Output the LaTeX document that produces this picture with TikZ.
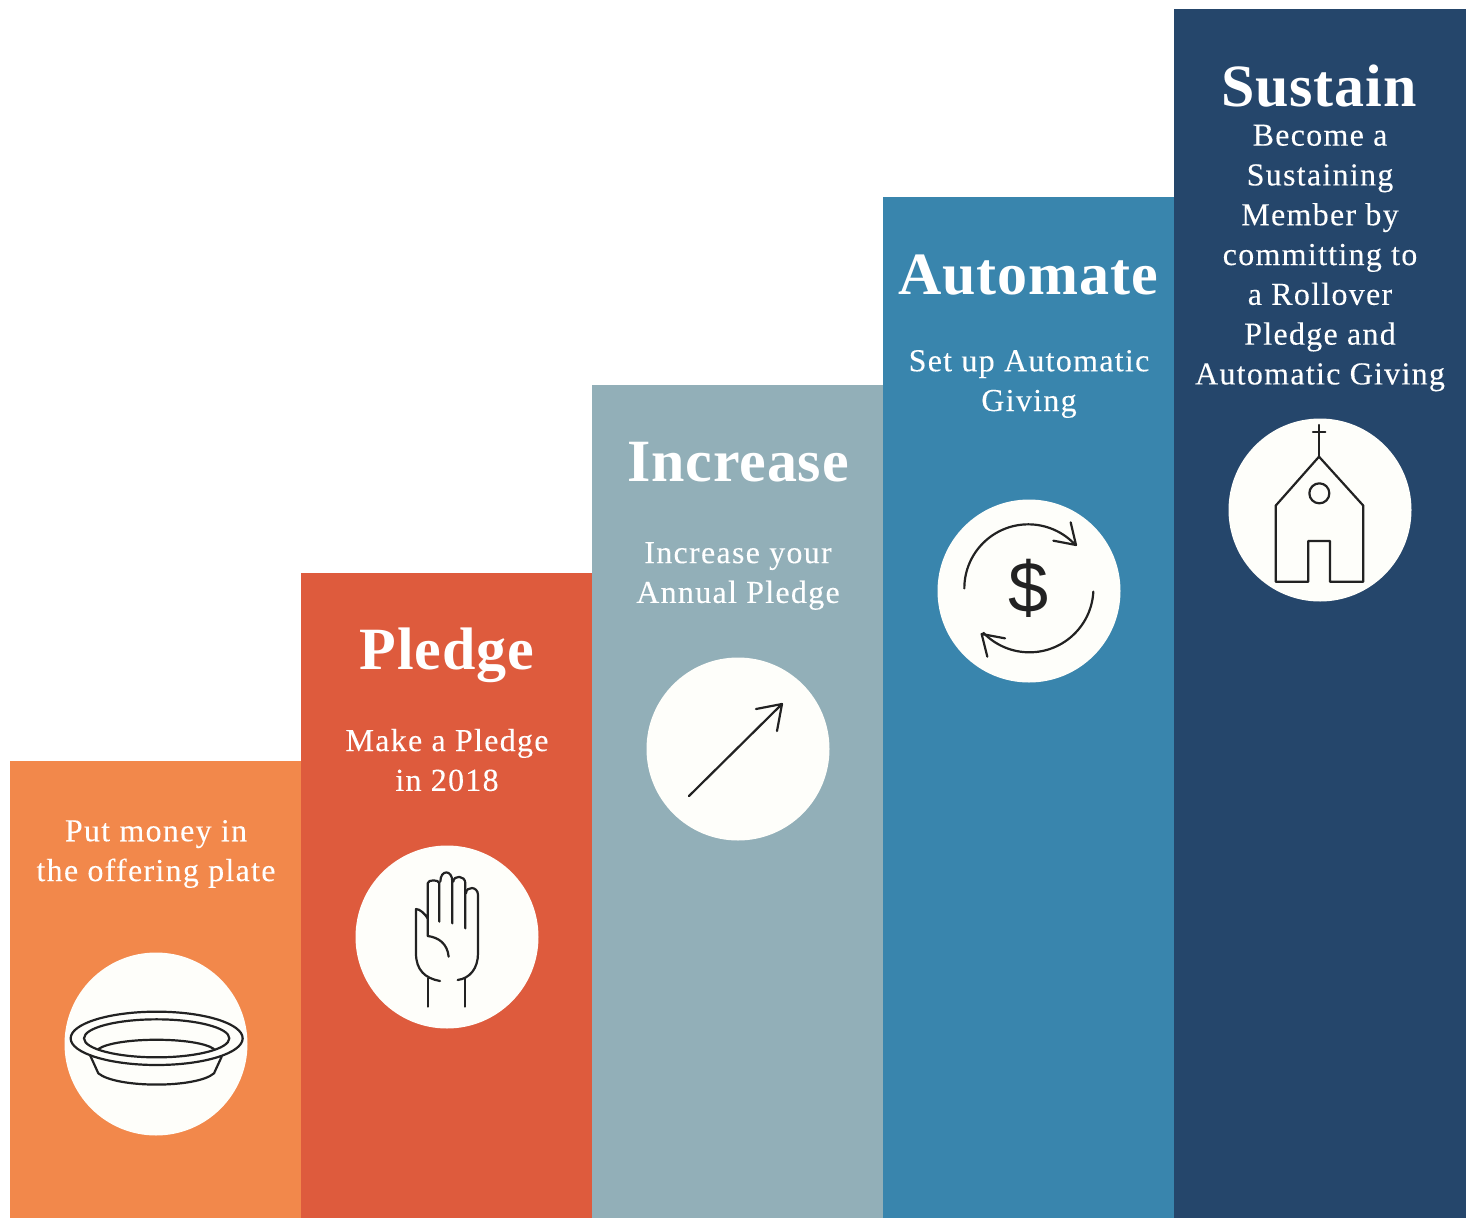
\documentclass[tikz,border=0pt]{standalone}
\usepackage{fontspec}
\setmainfont{Liberation Serif}
\newfontfamily\bodyfont[LetterSpace=4,FakeBold=0.15]{Liberation Serif}
\newfontfamily\headfont[LetterSpace=1.5]{Liberation Serif}
\newfontfamily\dollarfont{Liberation Sans}
\definecolor{cOrange}{HTML}{F2884B}
\definecolor{cRed}{HTML}{DE5B3D}
\definecolor{cGrey}{HTML}{92AFB8}
\definecolor{cBlue}{HTML}{3985AD}
\definecolor{cNavy}{HTML}{25466B}
\definecolor{cDisc}{HTML}{FEFEFA}
\definecolor{cInk}{HTML}{222222}
\tikzset{
  bar/.style={fill=#1,draw=none},
  disc/.style={circle,fill=cDisc,draw=none,minimum size=183pt,inner sep=0pt},
  heading/.style={text=white,font=\fontsize{60}{62}\selectfont\headfont\bfseries,inner sep=0pt,anchor=center},
  body/.style={text=white,font=\fontsize{32}{39.8}\selectfont\bodyfont,align=center,inner sep=0pt,anchor=center},
  icon/.style={draw=cInk,line width=2.2pt,line join=round,line cap=round,fill=none},
  zoomed/.style={x=0.33333pt,y=-0.33333pt}
}
\begin{document}
\begin{tikzpicture}[x=1pt,y=-1pt]
\useasboundingbox (0,0) rectangle (1473,1218);
\fill[white] (0,0) rectangle (1473,1218);
\fill[bar=cOrange] (10,761) rectangle (301,1218);
\fill[bar=cRed] (301,573) rectangle (592,1218);
\fill[bar=cGrey] (592,385) rectangle (883,1218);
\fill[bar=cBlue] (883,197) rectangle (1174,1218);
\fill[bar=cNavy] (1174,9) rectangle (1466,1218);

\node[heading] (h2) at (447,655) {Pledge};
\node[heading] (h3) at (738,462) {Increase};
\node[heading] (h4) at (1028,275) {Automate};
\node[heading] (h5) at (1319,86) {Sustain};

\node[body] (t1) at (156,854) {Put money in\\the offering plate};
\node[body] (t2) at (447,760) {Make a Pledge\\in 2018};
\node[body] (t3) at (738,576) {Increase your\\Annual Pledge};
\node[body] (t4) at (1029,384) {Set up Automatic\\Giving};
\node[body] (t5) at (1320,258) {Become a\\Sustaining\\Member by\\committing to\\a Rollover\\Pledge and\\Automatic Giving};

\node[disc] (d1) at (156,1044) {};
\node[disc] (d2) at (447,937) {};
\node[disc] (d3) at (738,749) {};
\node[disc] (d4) at (1029,591) {};
\node[disc] (d5) at (1320,510) {};

% plate
\begin{scope}[shift={(40,940)},zoomed]
\draw[icon] (350,295) ellipse [x radius=258,y radius=80];
\draw[icon] (350,295) ellipse [x radius=218,y radius=57];
\draw[icon] (175,327) .. controls (230,290) and (470,290) .. (522,327);
\draw[icon] (150,345) -- (175,400) .. controls (230,445) and (470,445) .. (522,400) -- (545,350);
\end{scope}

% hand
\begin{scope}[shift={(340,840)},zoomed]
\draw[icon] (375,415) -- (375,500);
\draw[icon] (265,415) -- (265,500);
\draw[icon] (300,423) .. controls (255,415) and (228,390) .. (228,340)
  -- (228,207) .. controls (240,207) and (255,222) .. (263,235)
  -- (263,130) .. controls (263,118) and (298,118) .. (298,130) -- (298,245);
\draw[icon] (301,125) .. controls (301,88) and (337,88) .. (337,125) -- (337,250);
\draw[icon] (340,125) .. controls (340,105) and (376,105) .. (376,130) -- (376,265);
\draw[icon] (378,160) .. controls (378,138) and (414,138) .. (414,165)
  -- (414,340) .. controls (414,385) and (390,415) .. (353,420);
\draw[icon] (263,235) -- (263,288) .. controls (295,292) and (322,310) .. (326,350);
\end{scope}

% rising arrow
\draw[icon] (689,796) -- (782,704);
\draw[icon] (756,709) -- (782,704) -- (777,731);

% automatic giving
\node[inner sep=0pt,text=cInk,font=\fontsize{72}{72}\selectfont\dollarfont] (dollar) at (1029,588) {\$};
\begin{scope}[shift={(930,490)},zoomed]
\draw[icon] (103,295) arc[start angle=180,end angle=317,radius=192];
\draw[icon] (422,97) -- (438,165) -- (370,152);
\draw[icon] (490,305) arc[start angle=3,end angle=136,radius=192];
\draw[icon] (225,445) -- (155,432) -- (172,500);
\end{scope}

% church
\begin{scope}[shift={(1220,410)},zoomed]
\draw[icon] (265,515) -- (167,515) -- (167,287) -- (297,140) -- (430,287) -- (430,515) -- (330,515) -- (330,393) -- (265,393) -- cycle;
\draw[icon] (297,140) -- (297,45);
\draw[icon] (279,66) -- (316,66);
\draw[icon] (298,250) circle [radius=30];
\end{scope}
\end{tikzpicture}
\end{document}
